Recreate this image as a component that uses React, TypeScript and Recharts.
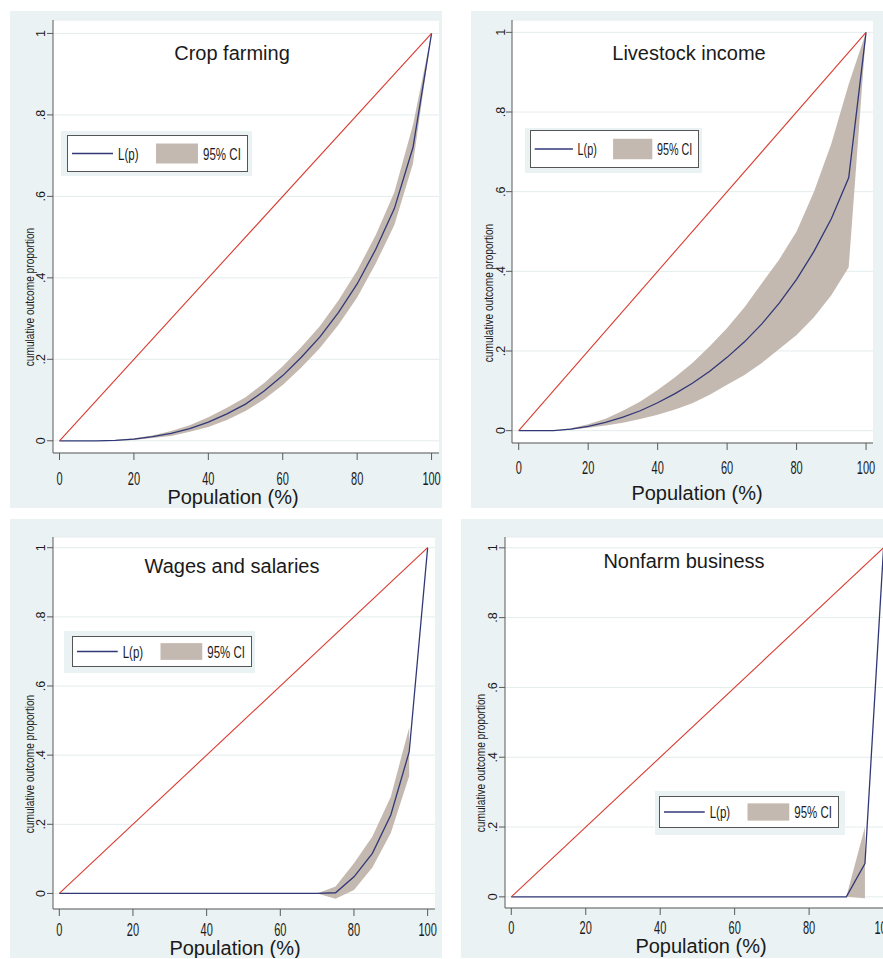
import React from "react";
import {
  ComposedChart, Line, Area, XAxis, YAxis, CartesianGrid, Legend, Customized,
} from "recharts";

// population grid (%), 5-point steps
const POP = [0, 5, 10, 15, 20, 25, 30, 35, 40, 45, 50, 55, 60, 65, 70, 75, 80, 85, 90, 95, 100];
const X_TICKS = [0, 20, 40, 60, 80, 100];
const Y_TICKS = [0, 0.2, 0.4, 0.6, 0.8, 1];
const Y_TICK_LABELS = ["0", ".2", ".4", ".6", ".8", "1"];
const EQUALITY = [{ p: 0, v: 0 }, { p: 100, v: 1 }];

const cropL = [0, 0, 0, 0.001, 0.004, 0.01, 0.018, 0.03, 0.046, 0.066, 0.09, 0.122, 0.16, 0.205, 0.255, 0.315, 0.385, 0.47, 0.57, 0.72, 1];
const cropLo = [0, 0, 0, 0, 0.002, 0.007, 0.012, 0.022, 0.034, 0.051, 0.073, 0.102, 0.137, 0.18, 0.228, 0.285, 0.352, 0.435, 0.53, 0.68, 1];
const cropHi = [0, 0, 0, 0.002, 0.006, 0.013, 0.024, 0.038, 0.058, 0.081, 0.107, 0.142, 0.183, 0.23, 0.282, 0.345, 0.418, 0.505, 0.61, 0.775, 1];

const livestockL = [0, 0, 0, 0.004, 0.011, 0.021, 0.034, 0.05, 0.07, 0.093, 0.119, 0.149, 0.184, 0.223, 0.268, 0.32, 0.38, 0.45, 0.532, 0.635, 1];
const livestockLo = [0, 0, 0, 0.002, 0.007, 0.013, 0.02, 0.029, 0.04, 0.053, 0.069, 0.09, 0.115, 0.14, 0.17, 0.205, 0.24, 0.285, 0.34, 0.41, 1];
const livestockHi = [0, 0, 0, 0.006, 0.016, 0.03, 0.05, 0.073, 0.102, 0.134, 0.17, 0.212, 0.258, 0.31, 0.37, 0.43, 0.5, 0.6, 0.72, 0.87, 1];

const wagesL = [0, 0, 0, 0, 0, 0, 0, 0, 0, 0, 0, 0, 0, 0, 0, 0.002, 0.048, 0.116, 0.227, 0.41, 1];
const wagesLo = [0, 0, 0, 0, 0, 0, 0, 0, 0, 0, 0, 0, 0, 0, 0, -0.015, 0.01, 0.075, 0.175, 0.34, null];
const wagesHi = [0, 0, 0, 0, 0, 0, 0, 0, 0, 0, 0, 0, 0, 0, 0, 0.02, 0.087, 0.165, 0.28, 0.48, null];

const nonfarmL = [0, 0, 0, 0, 0, 0, 0, 0, 0, 0, 0, 0, 0, 0, 0, 0, 0, 0, 0, 0.095, 1];
const nonfarmLo = [0, 0, 0, 0, 0, 0, 0, 0, 0, 0, 0, 0, 0, 0, 0, 0, 0, 0, 0, -0.004, null];
const nonfarmHi = [0, 0, 0, 0, 0, 0, 0, 0, 0, 0, 0, 0, 0, 0, 0, 0, 0, 0, 0, 0.2, null];

const FONT = "'Liberation Sans', Arial, Helvetica, sans-serif";
const BG = "#eaf2f3";
const RED = "#d93b2f";
const NAVY = "#313878";
const BAND = "#c4b9b0";
const AXIS = "#5a5a5a";
const INK = "#1a1a1a";

const rows = (L: number[], lo: (number | null)[], hi: (number | null)[]) =>
  POP.map((p, i) => ({ p, L: L[i], band: lo[i] == null ? null : [lo[i], hi[i]] }));

// all positions in page pixels
const PANELS = [
  {
    title: "Crop farming", data: rows(cropL, cropLo, cropHi),
    bg: [10, 11, 432, 497], plot: [53, 20, 439, 453],
    xDomain: [-1.75, 102], yDomain: [-0.03, 1.033],
    titlePos: [232, 60], yLab: [29, 297, 157], yTickX: 40, xTickY: 478, popPos: [233, 504],
    outer: [61, 131, 191, 45], box: [67, 135, 181, 37],
  },
  {
    title: "Livestock income", data: rows(livestockL, livestockLo, livestockHi),
    bg: [471, 11, 412, 497], plot: [512, 20, 873, 443],
    xDomain: [-1.93, 102], yDomain: [-0.031, 1.031],
    titlePos: [689, 60], yLab: [488, 293, 147], yTickX: 500, xTickY: 467, popPos: [697, 500],
    outer: [525, 128, 177, 45], box: [530, 130, 169, 38],
  },
  {
    title: "Wages and salaries", data: rows(wagesL, wagesLo, wagesHi),
    bg: [10, 519, 432, 439], plot: [53, 537, 435, 909],
    xDomain: [-1.71, 102], yDomain: [-0.045, 1.031],
    titlePos: [232, 573], yLab: [29, 764, 155], yTickX: 40, xTickY: 929, popPos: [235, 955],
    outer: [64, 631, 191, 42], box: [72, 636, 180, 31],
  },
  {
    title: "Nonfarm business", data: rows(nonfarmL, nonfarmLo, nonfarmHi),
    bg: [461, 519, 439, 439], plot: [505, 537, 891, 908],
    xDomain: [-1.69, 102], yDomain: [-0.032, 1.031],
    titlePos: [684, 568], yLab: [480, 763, 157], yTickX: 492, xTickY: 927, popPos: [701, 953],
    outer: [655, 791, 190, 44], box: [659, 796, 180, 32],
  },
];

type Panel = (typeof PANELS)[number];

// horizontally squeezed text, like Stata's condensed labels
const Squeezed = ({ x, y, sx, size, anchor = "start", children }: any) => (
  <text
    transform={`translate(${x},${y}) scale(${sx},1)`}
    textAnchor={anchor} fontSize={size} fontFamily={FONT} fill={INK}
  >
    {children}
  </text>
);

const LegendBox = ({ cfg }: { cfg: Panel }) => {
  const [ox, oy, ow, oh] = cfg.outer;
  const [bx0, by0, bw, bh] = cfg.box;
  const bx = bx0 - ox, by = by0 - oy;
  const s = bw / 181;
  const mid = by + bh / 2;
  const sh = bh * 0.54;
  return (
    <svg width={ow} height={oh} style={{ display: "block" }}>
      <rect x={0} y={0} width={ow} height={oh} fill={BG} />
      <rect x={bx + 0.5} y={by + 0.5} width={bw - 1} height={bh - 1} fill="#fff" stroke="#555" strokeWidth={1} />
      <line x1={bx + 5 * s} x2={bx + 46 * s} y1={mid} y2={mid} stroke={NAVY} strokeWidth={1.3} />
      <Squeezed x={bx + 51 * s} y={mid + 6} sx={0.68 * s} size={17}>L(p)</Squeezed>
      <rect x={bx + 89 * s} y={mid - sh / 2} width={42 * s} height={sh} fill={BAND} />
      <Squeezed x={bx + 136 * s} y={mid + 6} sx={0.68 * s} size={17}>95% CI</Squeezed>
    </svg>
  );
};

const LorenzPanel = ({ cfg }: { cfg: Panel }) => {
  const [gx, gy, gw, gh] = cfg.bg;
  const [pl, pt, pr, pb] = cfg.plot;
  const yAxisW = pl - gx;
  const xAxisH = gy + gh - pb;

  const xTick = (props: any) => (
    <Squeezed x={props.x} y={cfg.xTickY - gy + 7} sx={0.58} size={19} anchor="middle">
      {props.payload.value}
    </Squeezed>
  );

  const yTick = (props: any) => {
    const idx = Y_TICKS.indexOf(props.payload.value);
    return (
      <text
        transform={`translate(${cfg.yTickX - gx + 4.5},${props.y}) rotate(-90)`}
        textAnchor="middle" fontSize={12.5} fontFamily={FONT} fill={INK}
      >
        {Y_TICK_LABELS[idx]}
      </text>
    );
  };

  const yTitle = () => (
    <text
      transform={`translate(${cfg.yLab[0] - gx + 4.5},${cfg.yLab[1] - gy}) rotate(-90) scale(0.78,1)`}
      textAnchor="middle" fontSize={13} fontFamily={FONT} fill={INK}
    >
      cumulative outcome proportion
    </text>
  );

  const xTitle = () => (
    <text x={cfg.popPos[0] - gx} y={cfg.popPos[1] - gy} textAnchor="middle" fontSize={20} fontFamily={FONT} fill={INK}>
      Population (%)
    </text>
  );

  const title = () => (
    <text x={cfg.titlePos[0] - gx} y={cfg.titlePos[1] - gy} textAnchor="middle" fontSize={20} fontFamily={FONT} fill={INK}>
      {cfg.title}
    </text>
  );

  return (
    <div style={{ position: "absolute", left: gx, top: gy, width: gw, height: gh, background: BG }}>
      <ComposedChart
        width={gw}
        height={gh}
        data={cfg.data}
        margin={{ top: pt - gy, right: gx + gw - pr, left: 0, bottom: 0 }}
      >
        <CartesianGrid vertical={false} fill="#fff" stroke="#e4ecec" />
        <XAxis
          type="number" dataKey="p" domain={cfg.xDomain} allowDataOverflow ticks={X_TICKS} interval={0}
          height={xAxisH} tickSize={7} tickMargin={0} tick={xTick}
          axisLine={{ stroke: AXIS }} tickLine={{ stroke: AXIS }}
          label={{ content: xTitle }}
        />
        <YAxis
          type="number" domain={cfg.yDomain} allowDataOverflow ticks={Y_TICKS} interval={0}
          width={yAxisW} tickSize={6} tickMargin={0} tick={yTick}
          axisLine={{ stroke: AXIS }} tickLine={{ stroke: AXIS }}
          label={{ content: yTitle }}
        />
        <Area
          dataKey="band" stroke="none" fill={BAND} fillOpacity={1}
          isAnimationActive={false} dot={false} activeDot={false} connectNulls={false}
          legendType="rect" name="95% CI"
        />
        <Line
          dataKey="L" stroke={NAVY} strokeWidth={1.3} dot={false} activeDot={false}
          isAnimationActive={false} name="L(p)"
        />
        <Line
          data={EQUALITY} dataKey="v" stroke={RED} strokeWidth={1.1} dot={false} activeDot={false}
          isAnimationActive={false} legendType="none"
        />
        <Legend
          layout="horizontal" verticalAlign="middle" align="center"
          content={() => <LegendBox cfg={cfg} />}
          wrapperStyle={{
            position: "absolute",
            left: cfg.outer[0] - gx, top: cfg.outer[1] - gy,
            width: cfg.outer[2], height: cfg.outer[3],
          }}
        />
        <Customized component={title} />
      </ComposedChart>
    </div>
  );
};

export default function App() {
  return (
    <div style={{ position: "absolute", left: 0, top: 0, width: 883, height: 959, overflow: "hidden", background: "#fff" }}>
      {PANELS.map((cfg) => (
        <LorenzPanel key={cfg.title} cfg={cfg} />
      ))}
    </div>
  );
}
